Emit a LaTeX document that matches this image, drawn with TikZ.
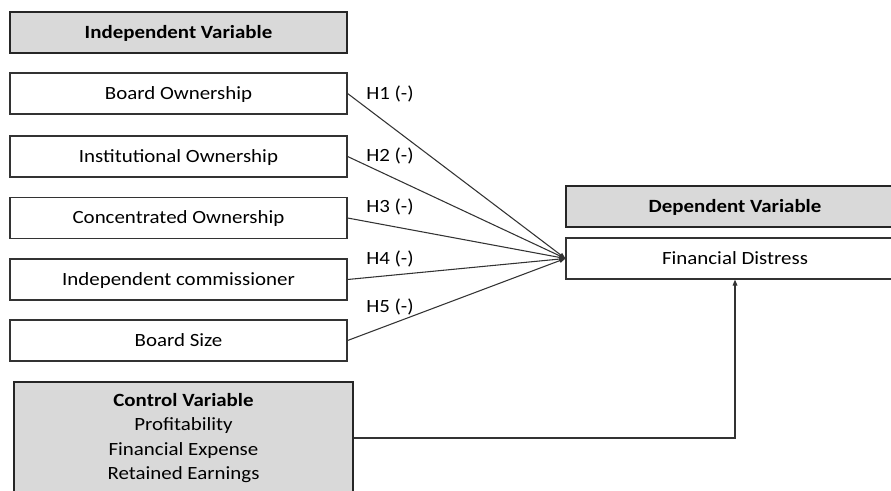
\documentclass[tikz,border=0pt]{standalone}
\usepackage{fontspec}
\setmainfont{Carlito}[FakeStretch=1.12]
\usetikzlibrary{arrows.meta}
\definecolor{boxgray}{HTML}{D9D9D9}
\definecolor{linegray}{HTML}{333333}
\begin{document}
\begin{tikzpicture}[x=0.75pt,y=-0.75pt,
  varbox/.style={draw=linegray, line width=0.9pt, fill=white, minimum width=252.75pt, minimum height=30.75pt, inner sep=0pt, text height=9pt, text depth=0pt, font=\fontsize{14}{17}\selectfont},
  headbox/.style={draw=black!85, line width=1.9pt, fill=boxgray, inner sep=0pt, minimum height=30.75pt, font=\bfseries\fontsize{14}{17}\selectfont},
  headtext/.style={text height=9pt, text depth=0pt},
  hlabel/.style={anchor=west, inner sep=0pt, font=\fontsize{14}{17}\selectfont},
  link/.style={draw=linegray, line width=0.8pt, -{Triangle[length=4.5pt,width=3.5pt]}}]
\useasboundingbox (0,0) rectangle (891,491);
\clip (0,0) rectangle (891,491);
% left column
\node[headbox, headtext, minimum width=252.75pt] (iv) at (178.5,32.5) {Independent Variable};
\node[varbox] (b1) at (178.5,93.5) {Board Ownership};
\node[varbox] (b2) at (178.5,156.5) {Institutional Ownership};
\node[varbox] (b3) at (178.5,218) {Concentrated Ownership};
\node[varbox] (b4) at (178.5,279.5) {Independent commissioner};
\node[varbox] (b5) at (178.5,340.5) {Board Size};
% right column
\node[headbox, headtext, minimum width=253.5pt] (dv) at (735,206.5) {Dependent Variable};
\node[varbox, minimum width=253.5pt] (fd) at (735,258.5) {Financial Distress};
% control
\node[headbox, minimum width=254.25pt, minimum height=84pt, align=center, font=\fontsize{14}{18.3}\selectfont] (ctrl) at (183.5,438)
  {\textbf{Control Variable}\\Profitability\\Financial Expense\\Retained Earnings};
% labels
\node[hlabel] (h1) at (366,94) {H1 (-)};
\node[hlabel] (h2) at (366,156) {H2 (-)};
\node[hlabel] (h3) at (366,207) {H3 (-)};
\node[hlabel] (h4) at (366,259) {H4 (-)};
\node[hlabel] (h5) at (366,307) {H5 (-)};
% connectors
\foreach \b in {b1,b2,b3,b4,b5}
  \draw[link] (\b.east) -- (fd.west);
\draw[link] (ctrl.east) -| (fd.south);
\end{tikzpicture}
\end{document}
